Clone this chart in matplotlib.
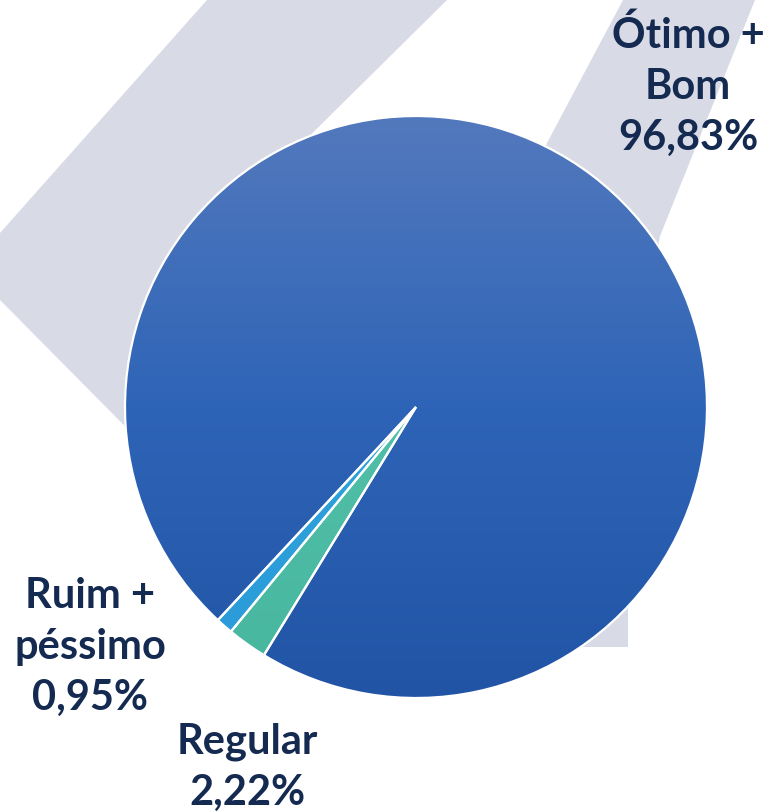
import numpy as np
import matplotlib
matplotlib.use("Agg")
import matplotlib.pyplot as plt
from matplotlib.colors import LinearSegmentedColormap

# ---- data ----
categories = ["Ótimo +\nBom", "Ruim +\npéssimo", "Regular"]
values = [96.83, 0.95, 2.22]
value_labels = ["96,83%", "0,95%", "2,22%"]

W, H = 764, 811
fig = plt.figure(figsize=(W / 100, H / 100), dpi=100)
ax = fig.add_axes([0, 0, 1, 1])
ax.set_xlim(0, W)
ax.set_ylim(0, H)
ax.set_aspect("equal")
ax.axis("off")

def Y(y):
    return H - y

# ---- watermark background shapes ----
wm = "#d8dae6"
band1 = [(207, 0), (447, 0), (270, 175), (200, 502), (0, 300), (0, 233)]
band2 = [(623, 0), (755, 0), (660, 236), (628, 420), (628, 647), (560, 647), (500, 300), (547, 143)]
for poly in (band1, band2):
    xs = [p[0] for p in poly]
    ys = [Y(p[1]) for p in poly]
    ax.fill(xs, ys, color=wm, lw=0, zorder=0)

# ---- pie ----
cx, cy, r = 416, Y(407), 291
wedges, _ = ax.pie(values, center=(cx, cy), radius=r, startangle=238.5,
                   counterclock=True,
                   wedgeprops=dict(edgecolor="white", linewidth=1.6),
                   frame=True)
ax.set_xlim(0, W)
ax.set_ylim(0, H)
ax.axis("off")

grads = [
    ["#2154a5", "#2e64b7", "#5379bd"],
    ["#2a9ad8", "#2ea3dd", "#35aae0"],
    ["#47b69f", "#52c0a8", "#5ccab3"],
]
grad = np.linspace(0, 1, 256).reshape(-1, 1)
for w, cols in zip(wedges, grads):
    cmap = LinearSegmentedColormap.from_list("g", cols)
    w.set_facecolor("none")
    w.set_zorder(3)
    im = ax.imshow(grad, cmap=cmap, origin="lower", aspect="auto",
                   extent=[cx - r, cx + r, cy - r, cy + r], zorder=2,
                   interpolation="bilinear")
    im.set_clip_path(w)
ax.set_xlim(0, W)
ax.set_ylim(0, H)

# ---- labels ----
tc = "#152a50"
fs = 30
font = dict(family=["Lato", "DejaVu Sans"], fontweight="bold", color=tc,
            fontsize=fs, ha="center", va="center", linespacing=1.42, zorder=5)
label_pos = [(688, 86), (90, 647), (247, 767)]
for cat, vl, (x, y) in zip(categories, value_labels, label_pos):
    ax.text(x, Y(y), cat + "\n" + vl, **font)

fig.savefig("out.png", dpi=100, facecolor="white")
